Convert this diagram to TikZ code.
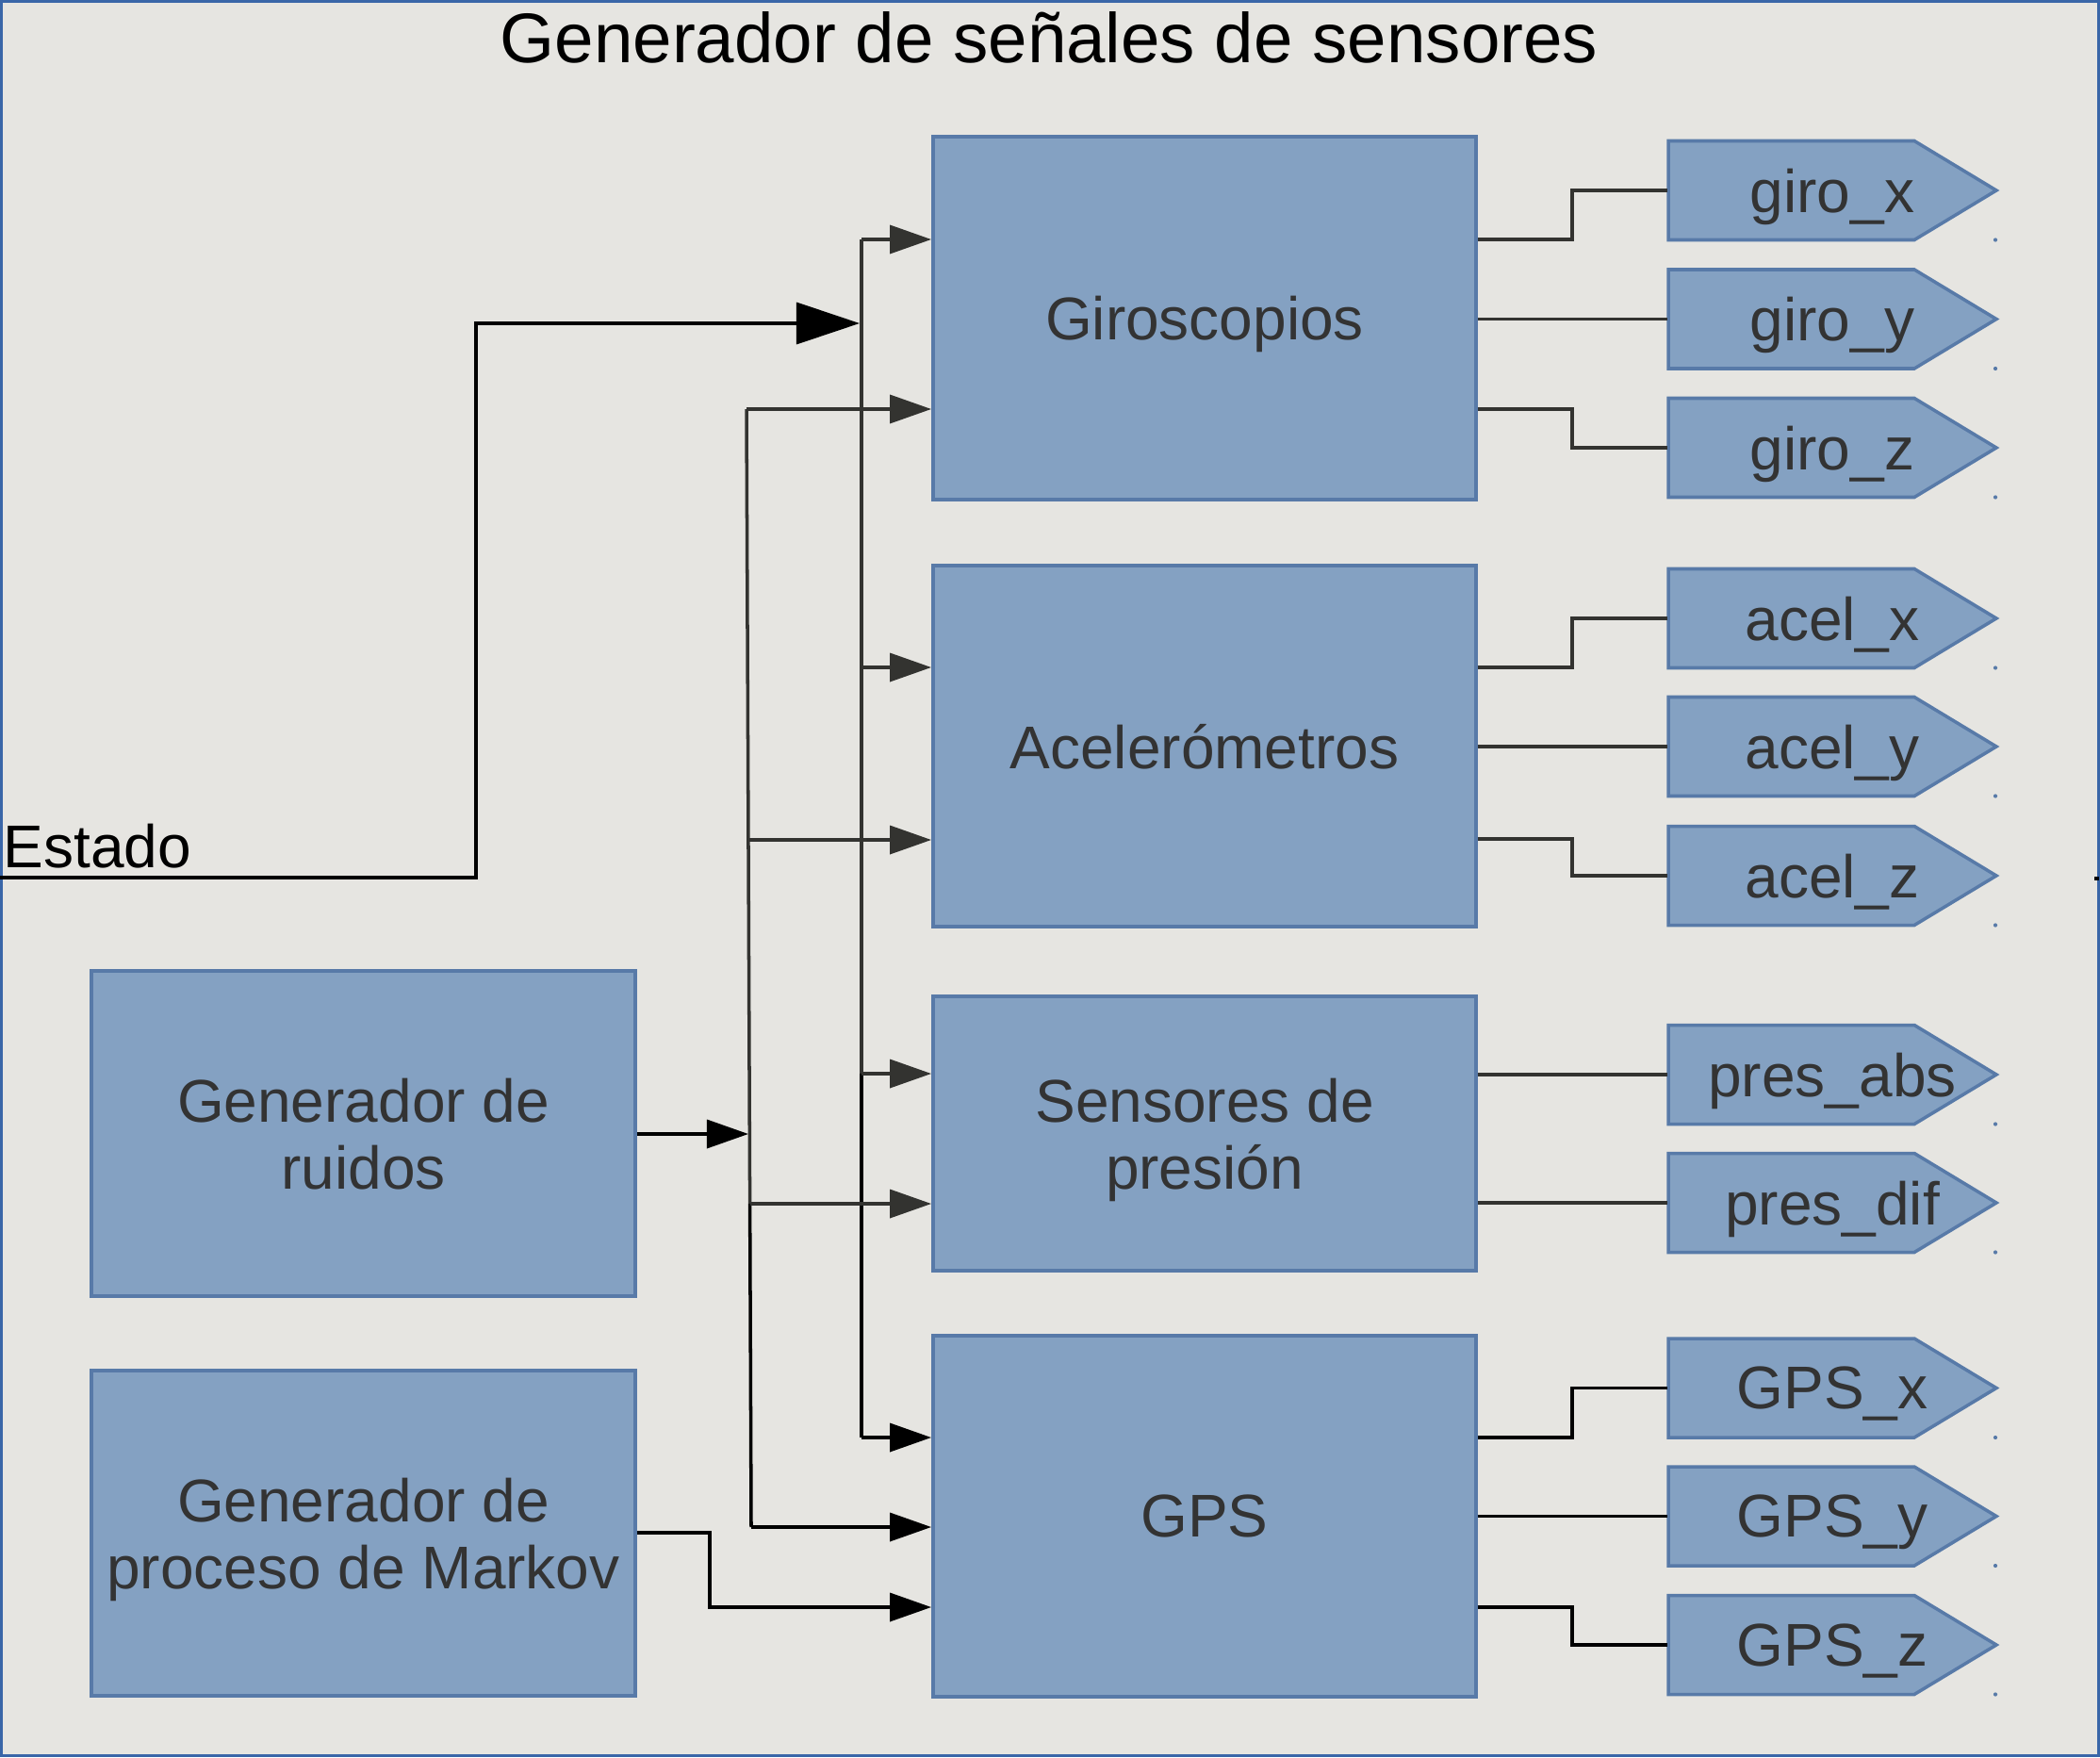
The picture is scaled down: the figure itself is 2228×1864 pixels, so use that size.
\documentclass[tikz,border=0pt]{standalone}
\usepackage{fontspec}
\setmainfont{Liberation Sans}
\usetikzlibrary{arrows.meta}
\definecolor{bgc}{RGB}{230,229,225}
\definecolor{boxfill}{RGB}{132,161,194}
\definecolor{boxedge}{RGB}{88,122,168}
\definecolor{framec}{RGB}{58,102,168}
\definecolor{wiregray}{RGB}{51,51,48}
\definecolor{textgray}{RGB}{51,51,51}
\newcommand\boxfont{\fontsize{18.2}{20.2}\selectfont}
\newcommand\titlefont{\fontsize{21.2}{24}\selectfont}
\begin{document}
\begin{tikzpicture}[x=0.01cm,y=-0.01cm,
  blk/.style={draw=boxedge, fill=boxfill, line width=1pt, inner sep=0pt,
    text=textgray, font=\boxfont, align=center, minimum width=5.76cm, text depth=0pt},
  outlab/.style={inner sep=0pt, minimum width=3.48cm, minimum height=1.05cm,
    text=textgray, font=\boxfont, text depth=0pt},
  wire/.style={draw=wiregray, line width=1pt},
  wireb/.style={draw=black, line width=1pt},
  arr/.style={-{Triangle[length=0.44cm,width=0.30cm]}},
  bigarr/.style={-{Triangle[length=0.67cm,width=0.44cm]}},
]
\useasboundingbox (0,0) rectangle (2228,1864);
\fill[bgc] (0,0) rectangle (2228,1864);
\draw[framec, line width=0.85pt] (1.5,1.5) rectangle (2226.5,1862.5);

% title
\node[font=\titlefont, anchor=base, inner sep=0pt] (title) at (1113,67) {Generador de señales de sensores};

% main blocks
\node[blk, minimum height=3.85cm] (gyro) at (1278,337.5) {Giroscopios};
\node[blk, minimum height=3.83cm] (acel) at (1278,791.5) {Acelerómetros};
\node[blk, minimum height=2.91cm] (pres) at (1278,1202.5) {Sensores de\\presión};
\node[blk, minimum height=3.83cm] (gps) at (1278,1608.5) {GPS};
\node[blk, minimum height=3.45cm, minimum width=5.77cm] (ruido) at (385.5,1202.5) {Generador de\\ruidos};
\node[blk, minimum height=3.45cm, minimum width=5.77cm] (markov) at (385.5,1626.5) {Generador de\\proceso de Markov};

% output pentagons
\foreach \n/\yc/\t in {gx/202/giro\_x, gy/338.5/giro\_y, gz/475/giro\_z,
  ax/656/acel\_x, ay/792/acel\_y, az/929/acel\_z,
  pa/1140/pres\_abs, pd/1276/pres\_dif,
  Gx/1472.5/GPS\_x, Gy/1608.5/GPS\_y, Gz/1745/GPS\_z}{
  \filldraw[fill=boxfill, draw=boxedge, line width=1pt, line join=miter]
    (1770,{\yc-52.5}) -- (2031,{\yc-52.5}) -- (2118,\yc) -- (2031,{\yc+52.5})
    -- (1770,{\yc+52.5}) -- cycle;
  \fill[boxedge] (2117,{\yc+52.5}) circle[radius=0.6pt];
  \node[outlab] (\n) at (1944,\yc) {\t};
}

% Estado input
\node[anchor=base west, inner sep=0pt, font=\boxfont] (estado) at (3,920) {Estado};
\coordinate (ein) at (0,931);
\coordinate (sbin) at (912,343);
\draw[wireb, bigarr] (ein) -| (505,343) -- (sbin);
\fill[black] (2222,930) rectangle (2227,934);

% state bus
\coordinate (sb1) at (914,254);
\coordinate (sb2) at (914,708);
\coordinate (sb3) at (914,1139);
\coordinate (sb4) at (914,1525);
\draw[wire] (sb1) -- (sb3);
\draw[wireb] (sb3) -- (sb4);
\draw[wire, arr] (sb1) -- (gyro.west |- sb1);
\draw[wire, arr] (sb2) -- (acel.west |- sb2);
\draw[wire, arr] (sb3) -- (pres.west |- sb3);
\draw[wireb, arr] (sb4) -- (gps.west |- sb4);

% noise bus
\coordinate (nb1) at (792,434);
\coordinate (nb2) at (793.9,891);
\coordinate (nb3) at (795.6,1277);
\coordinate (nb4) at (797,1620);
\coordinate (nbin) at (794,1203);
\draw[wire] (nb1) -- (nb3);
\draw[wireb] (nb3) -- (nb4);
\draw[wire, arr] (nb1) -- (gyro.west |- nb1);
\draw[wire, arr] (nb2) -- (acel.west |- nb2);
\draw[wire, arr] (nb3) -- (pres.west |- nb3);
\draw[wireb, arr] (nb4) -- (gps.west |- nb4);
\draw[wireb, arr] (ruido.east |- nbin) -- (nbin);

% Markov
\draw[wireb, arr] (markov.east |- 0,1626) -| (753,1705) -- (gps.west |- 0,1705);

% outputs
\draw[wire] (gyro.east |- 0,254) -| (1668,202) -- (gx.west);
\draw[wire] (gyro.east |- gy.west) -- (gy.west);
\draw[wire] (gyro.east |- 0,434) -| (1668,475) -- (gz.west);
\draw[wire] (acel.east |- 0,708) -| (1668,656) -- (ax.west);
\draw[wire] (acel.east |- ay.west) -- (ay.west);
\draw[wire] (acel.east |- 0,890) -| (1668,929) -- (az.west);
\draw[wire] (pres.east |- pa.west) -- (pa.west);
\draw[wire] (pres.east |- pd.west) -- (pd.west);
\draw[wireb] (gps.east |- 0,1525) -| (1668,1472.5) -- (Gx.west);
\draw[wireb] (gps.east |- Gy.west) -- (Gy.west);
\draw[wireb] (gps.east |- 0,1705) -| (1668,1745) -- (Gz.west);
\end{tikzpicture}
\end{document}
